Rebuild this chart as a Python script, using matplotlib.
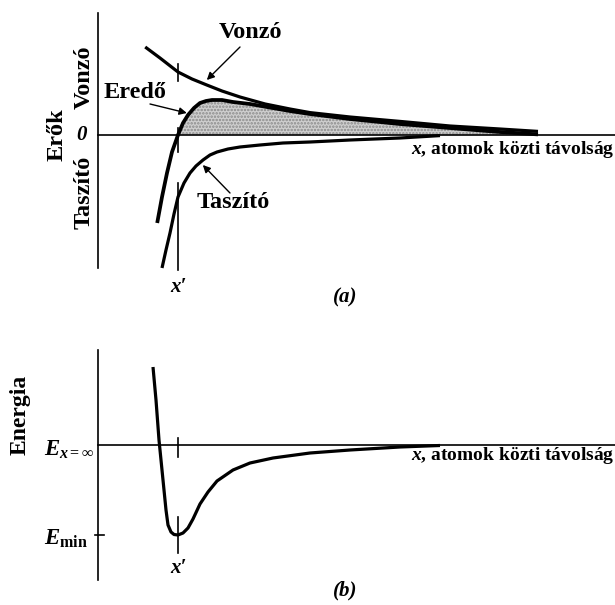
import numpy as np
import matplotlib
matplotlib.use("Agg")
import matplotlib.pyplot as plt

plt.rcParams['font.family'] = ['Liberation Serif', 'DejaVu Serif']
plt.rcParams['font.weight'] = 'bold'
plt.rcParams['mathtext.fontset'] = 'custom'
plt.rcParams['mathtext.rm'] = 'Liberation Serif:bold'
plt.rcParams['mathtext.it'] = 'Liberation Serif:italic:bold'
plt.rcParams['mathtext.bf'] = 'Liberation Serif:bold'
plt.rcParams['hatch.linewidth'] = 1.2

# x in units of x' (equilibrium distance), forces / energy in arbitrary units
# (a) forces
attr_x = [0.59, 0.775, 1.0, 1.175, 1.36, 1.55, 1.775, 2.09, 2.4, 2.65, 3.15, 3.775, 4.4, 5.025, 5.5]
attr_y = [4.4, 3.85, 3.15, 2.8, 2.5, 2.2, 1.9, 1.55, 1.3, 1.12, 0.9, 0.68, 0.45, 0.3, 0.18]

net_x = [0.74, 0.8, 0.8625, 0.925, 1.0, 1.0625, 1.125, 1.2, 1.275, 1.35, 1.425, 1.55,
         1.6875, 1.9, 2.1125, 2.4, 2.65, 3.15, 3.775, 4.4, 5.025, 5.5]
net_y = [-4.4, -3.1, -1.9, -0.85, 0.0, 0.6, 1.0, 1.35, 1.6, 1.7, 1.75, 1.75,
         1.65, 1.55, 1.4, 1.2, 1.05, 0.8, 0.55, 0.35, 0.15, 0.03]

rep_x = [0.8, 0.85, 0.9, 0.95, 1.0, 1.075, 1.15, 1.225, 1.3125, 1.4, 1.4875, 1.625,
         1.775, 2.025, 2.3125, 2.65, 3.15, 3.775, 4.275]
rep_y = [-6.65, -5.75, -4.9, -3.95, -3.1, -2.4, -1.9, -1.55, -1.25, -1.0, -0.85, -0.7,
         -0.6, -0.5, -0.4, -0.35, -0.25, -0.15, -0.03]

# (b) potential energy
en_x = [0.6875, 0.725, 0.7625, 0.8125, 0.85, 0.875, 0.9125, 0.95, 1.0, 1.0625, 1.125,
        1.1875, 1.275, 1.375, 1.4875, 1.6875, 1.9, 2.1875, 2.65, 3.15, 3.775, 4.275]
en_y = [3.9, 2.25, 0.25, -1.75, -3.25, -4.0, -4.35, -4.475, -4.5, -4.4, -4.15,
        -3.7, -2.95, -2.35, -1.8, -1.25, -0.9, -0.65, -0.4, -0.25, -0.1, -0.025]

x_eq = 1.0
e_min = min(en_y)

fig = plt.figure(figsize=(6.15, 6.05), dpi=100)
axa = fig.add_axes([0, 0.5, 1, 0.5])
axb = fig.add_axes([0, 0, 1, 0.5])
for ax in (axa, axb):
    ax.set_axis_off()
    ax.set_xlim(-1.225, 6.4625)
axa.set_ylim(-8.375, 6.75)
axb.set_ylim(-8.0, 7.125)

LW = 2.3
ALW = 1.2

# ---- (a) ----
axa.plot([0, 0], [-6.65, 6.1], color='k', lw=ALW)
axa.plot([0, 6.5], [0, 0], color='k', lw=ALW)

nx = np.array(net_x)
ny = np.array(net_y)
m = nx >= x_eq
axa.fill_between(nx[m], ny[m], 0, facecolor='#cfcfcf', edgecolor='#8a8a8a',
                 hatch='.....', lw=0)
axa.plot(attr_x, attr_y, color='k', lw=LW, solid_capstyle='butt')
axa.plot(net_x, net_y, color='k', lw=LW + 0.4, solid_capstyle='butt')
axa.plot(rep_x, rep_y, color='k', lw=LW, solid_capstyle='butt')

# x' markers
axa.plot([x_eq, x_eq], [0.35, -0.85], color='k', lw=ALW)
axa.plot([x_eq, x_eq], [3.55, 2.7], color='k', lw=ALW)
axa.plot([x_eq, x_eq], [-2.4, -6.75], color='k', lw=ALW)

arr = dict(arrowstyle='-|>', lw=1.0, color='k', mutation_scale=11, shrinkA=0, shrinkB=0)
axa.text(1.9, 5.15, 'Vonzó', fontsize=17.5, ha='center', va='center')
axa.annotate('', xy=(1.36, 2.75), xytext=(1.775, 4.4), arrowprops=arr)
axa.text(0.46, 2.15, 'Eredő', fontsize=17.5, ha='center', va='center')
axa.annotate('', xy=(1.11, 1.1), xytext=(0.65, 1.55), arrowprops=arr)
axa.text(1.69, -3.4, 'Taszító', fontsize=17.5, ha='center', va='center')
axa.annotate('', xy=(1.31, -1.5), xytext=(1.65, -2.9), arrowprops=arr)

axa.text(-0.51, 0, 'Erők', fontsize=17.5, rotation=90, ha='center', va='center')
axa.text(-0.175, 2.9, 'Vonzó', fontsize=17.5, rotation=90, ha='center', va='center')
axa.text(-0.175, -2.85, 'Taszító', fontsize=17.5, rotation=90, ha='center', va='center')
axa.text(-0.2, 0, '0', fontsize=15, style='italic', ha='center', va='center')
axa.text(6.46, -0.7, r'$x$, atomok közti távolság', fontsize=14, ha='right', va='center')
axa.text(x_eq, -7.6, 'x′', fontsize=15, style='italic', ha='center', va='center')
axa.text(3.09, -8.1, '(a)', fontsize=15, style='italic', ha='center', va='center')

# ---- (b) ----
axb.plot([0, 0], [-6.75, 4.75], color='k', lw=ALW)
axb.plot([0, 6.5], [0, 0], color='k', lw=ALW)
axb.plot(en_x, en_y, color='k', lw=LW, solid_capstyle='butt')
axb.plot([x_eq, x_eq], [0.35, -0.6], color='k', lw=ALW)
axb.plot([x_eq, x_eq], [-3.6, -5.4], color='k', lw=ALW)
axb.plot([-0.04, 0.075], [e_min, e_min], color='k', lw=ALW)

axb.text(-0.975, 1.5, 'Energia', fontsize=17, rotation=90, ha='center', va='center')
axb.text(-0.05, -0.25, r'$E_{x=\infty}$', fontsize=16.5, ha='right', va='center')
axb.text(-0.125, e_min - 0.2, r'$E_{\mathrm{min}}$', fontsize=16.5, ha='right', va='center')
axb.text(6.46, -0.55, r'$x$, atomok közti távolság', fontsize=14, ha='right', va='center')
axb.text(x_eq, -6.15, 'x′', fontsize=15, style='italic', ha='center', va='center')
axb.text(3.09, -7.25, '(b)', fontsize=15, style='italic', ha='center', va='center')

fig.savefig('out.png', dpi=100)
